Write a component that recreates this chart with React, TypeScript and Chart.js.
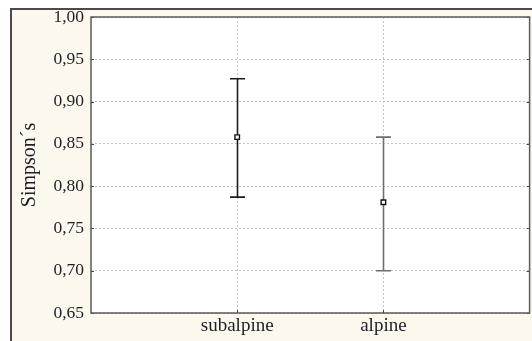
import React, { useEffect, useRef } from "react";
import { Chart, registerables } from "chart.js";

Chart.register(...registerables);

const categories = ["subalpine", "alpine"];
const means = [0.858, 0.781];
const upper = [0.927, 0.858];
const lower = [0.787, 0.7];
const barColors = ["#1c1c1c", "#6e6e6e"];
const yTickValues = [0.65, 0.7, 0.75, 0.8, 0.85, 0.9, 0.95, 1.0];
const yTitle = "Simpson´s";

const FONT = "'Liberation Serif', 'Times New Roman', serif";

const framePlugin = {
  id: "framePlugin",
  beforeDraw(chart: any) {
    const { ctx, chartArea: a } = chart;
    ctx.save();
    ctx.fillStyle = "#ffffff";
    ctx.fillRect(a.left, a.top, a.right - a.left, a.bottom - a.top);
    ctx.restore();
  },
  beforeDatasetsDraw(chart: any) {
    const { ctx } = chart;
    const xs = chart.scales.x;
    const ys = chart.scales.y;
    ctx.save();
    categories.forEach((_, i) => {
      const x = Math.round(xs.getPixelForValue(i + 1)) + 0.5;
      const yHi = ys.getPixelForValue(upper[i]);
      const yLo = ys.getPixelForValue(lower[i]);
      ctx.strokeStyle = barColors[i];
      ctx.lineWidth = 1.6;
      ctx.beginPath();
      ctx.moveTo(x, yHi);
      ctx.lineTo(x, yLo);
      ctx.moveTo(x - 7.5, yHi);
      ctx.lineTo(x + 7.5, yHi);
      ctx.moveTo(x - 7.5, yLo);
      ctx.lineTo(x + 7.5, yLo);
      ctx.stroke();
    });
    ctx.restore();
  },
  afterDatasetsDraw(chart: any) {
    const { ctx, chartArea: a } = chart;
    const xs = chart.scales.x;
    const ys = chart.scales.y;
    ctx.save();
    ctx.strokeStyle = "#444";
    ctx.lineWidth = 1;
    ctx.beginPath();
    yTickValues.forEach((v) => {
      const y = Math.round(ys.getPixelForValue(v)) + 0.5;
      ctx.moveTo(a.left, y);
      ctx.lineTo(a.left + 3, y);
      ctx.moveTo(a.right, y);
      ctx.lineTo(a.right - 3, y);
    });
    categories.forEach((_, i) => {
      const x = Math.round(xs.getPixelForValue(i + 1)) + 0.5;
      ctx.moveTo(x, a.bottom);
      ctx.lineTo(x, a.bottom - 3);
    });
    ctx.stroke();
    ctx.strokeStyle = "#5a5a5a";
    ctx.lineWidth = 1.5;
    ctx.strokeRect(a.left, a.top, a.right - a.left, a.bottom - a.top);
    ctx.restore();
  },
};

export default function App() {
  const ref = useRef<HTMLCanvasElement>(null);
  useEffect(() => {
    if (!ref.current) return;
    const chart = new Chart(ref.current, {
      type: "scatter",
      data: {
        datasets: [
          {
            data: means.map((m, i) => ({ x: i + 1, y: m })),
            pointStyle: "rect",
            pointRadius: 3.2,
            backgroundColor: "#ffffff",
            borderColor: "#111",
            borderWidth: 1.4,
          },
        ],
      },
      options: {
        animation: false,
        responsive: true,
        maintainAspectRatio: false,
        layout: { padding: { top: 7, right: 0, left: 0, bottom: 0 } },
        plugins: { legend: { display: false }, tooltip: { enabled: false } },
        scales: {
          x: {
            type: "linear",
            min: 0,
            max: categories.length + 1,
            afterBuildTicks: (s: any) => {
              s.ticks = categories.map((_, i) => ({ value: i + 1 }));
            },
            afterFit: (s: any) => {
              s.height = 28;
              s.paddingLeft = 0;
              s.paddingRight = 0;
              s.paddingTop = 0;
              s.paddingBottom = 0;
            },
            ticks: {
              callback: (v: any) => categories[Number(v) - 1] ?? "",
              font: { family: FONT, size: 19 },
              color: "#1e1e28",
              padding: 2,
              maxRotation: 0,
            },
            grid: { color: "#c4c4c4", lineWidth: 1, drawTicks: false },
            border: { display: false, dash: [2, 2] },
          },
          y: {
            min: 0.65,
            max: 1.0,
            afterBuildTicks: (s: any) => {
              s.ticks = yTickValues.map((v) => ({ value: v }));
            },
            afterFit: (s: any) => {
              s.width = 79;
              s.paddingTop = 0;
              s.paddingBottom = 0;
              s.paddingLeft = 0;
              s.paddingRight = 0;
            },
            ticks: {
              callback: (v: any) => Number(v).toFixed(2).replace(".", ","),
              font: { family: FONT, size: 17.5 },
              color: "#1e1e28",
              padding: 7,
            },
            grid: { color: "#c4c4c4", lineWidth: 1, drawTicks: false },
            border: { display: false, dash: [2, 2] },
            title: {
              display: true,
              text: yTitle,
              font: { family: FONT, size: 20 },
              color: "#1e1e28",
              padding: { top: 6, bottom: 0 },
            },
          },
        },
      },
      plugins: [framePlugin],
    });
    return () => chart.destroy();
  }, []);

  return (
    <div
      style={{
        position: "fixed",
        left: 10,
        top: 8,
        width: 522,
        height: 333,
        boxSizing: "border-box",
        borderLeft: "2px solid #4a4a4a",
        borderTop: "2px solid #4a4a4a",
        background: "#fdf8ee",
        overflow: "hidden",
      }}
    >
      <div style={{ position: "relative", width: 523, height: 331 }}>
        <canvas ref={ref} />
      </div>
    </div>
  );
}
